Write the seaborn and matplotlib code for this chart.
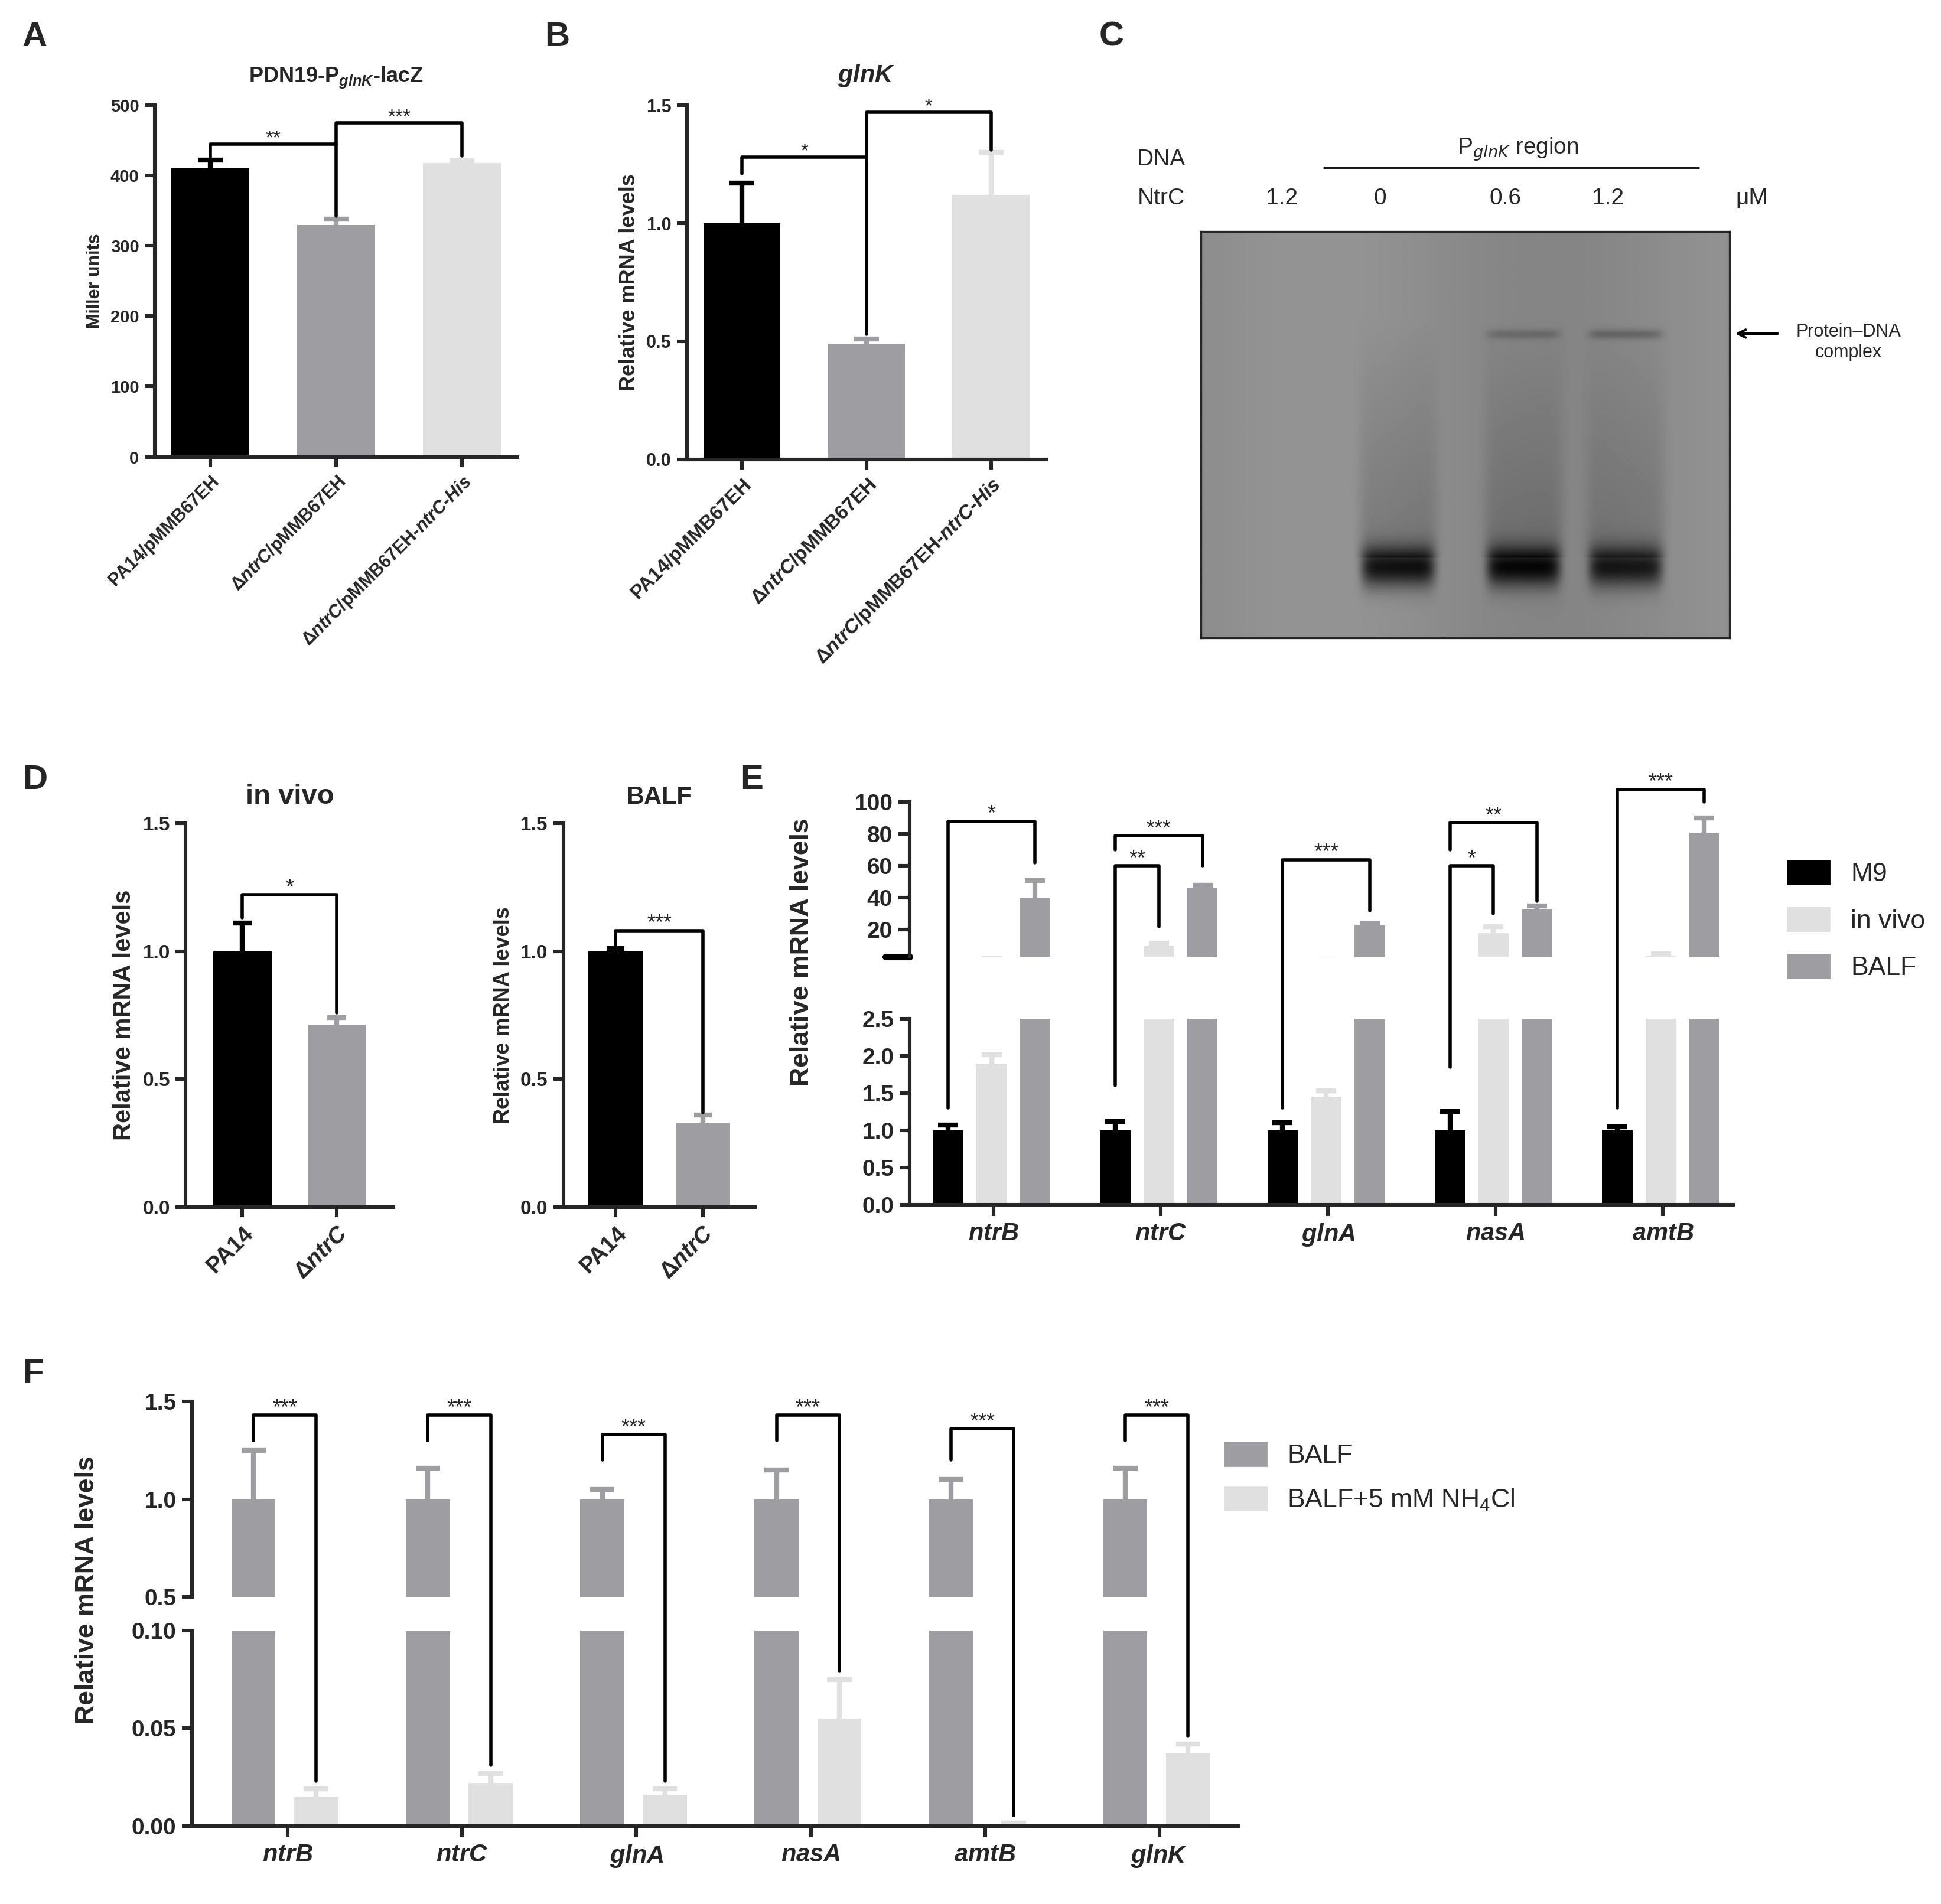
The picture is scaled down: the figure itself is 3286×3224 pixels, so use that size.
import numpy as np
import pandas as pd
import matplotlib
matplotlib.use("Agg")
import matplotlib.pyplot as plt
import seaborn as sns
from matplotlib.patches import Patch
from matplotlib.lines import Line2D

sns.set_theme(style="ticks")
plt.rcParams['font.family'] = ['Liberation Sans', 'DejaVu Sans']
plt.rcParams['mathtext.fontset'] = 'custom'
plt.rcParams['mathtext.it'] = 'Liberation Sans:bold:italic'
plt.rcParams['mathtext.bf'] = 'Liberation Sans:bold'
plt.rcParams['mathtext.rm'] = 'Liberation Sans'
plt.rcParams['axes.linewidth'] = 2.2
plt.rcParams['xtick.major.width'] = 2.2
plt.rcParams['ytick.major.width'] = 2.2

BLACK, GRAY, LIGHT = "#000000", "#9e9ea2", "#e0e0e0"

# ---------------- data ----------------
strainsAB = ["PA14/pMMB67EH", r"Δ$\mathit{ntrC}$/pMMB67EH", r"Δ$\mathit{ntrC}$/pMMB67EH-$\mathit{ntrC}$-$\mathit{His}$"]
A_vals = [410, 330, 418]
A_err = [12, 8, 3]
B_vals = [1.0, 0.49, 1.12]
B_err = [0.17, 0.02, 0.18]

D_strains = ["PA14", r"Δ$\mathit{ntrC}$"]
D_vivo = [1.0, 0.71]
D_vivo_err = [0.11, 0.03]
D_balf = [1.0, 0.33]
D_balf_err = [0.01, 0.03]

E_genes = ["ntrB", "ntrC", "glnA", "nasA", "amtB"]
E_conds = ["M9", "in vivo", "BALF"]
E_M9 = [1.0, 1.0, 1.0, 1.0, 1.0]
E_M9_err = [0.07, 0.12, 0.10, 0.25, 0.05]
E_vivo = [1.9, 10.0, 1.45, 18.0, 4.0]
E_vivo_err = [0.12, 1.5, 0.08, 4.0, 1.0]
E_balf = [40.0, 46.0, 23.0, 33.0, 81.0]
E_balf_err = [11.0, 2.0, 1.0, 2.0, 9.0]

F_genes = ["ntrB", "ntrC", "glnA", "nasA", "amtB", "glnK"]
F_conds = ["BALF", "BALF+5 mM NH$_4$Cl"]
F_balf = [1.0, 1.0, 1.0, 1.0, 1.0, 1.0]
F_balf_err = [0.25, 0.16, 0.05, 0.15, 0.10, 0.16]
F_nh4 = [0.015, 0.022, 0.016, 0.055, 0.001, 0.037]
F_nh4_err = [0.004, 0.005, 0.003, 0.020, 0.0005, 0.005]

C_lanes_ntrc = ["1.2", "0", "0.6", "1.2"]
C_free_band = [0.0, 1.0, 1.0, 0.9]
C_complex_band = [0.0, 0.0, 0.35, 0.45]

fig = plt.figure(figsize=(16.43, 16.12), dpi=200)
W, H = 1568.0, 1538.0
def rect(x0, y0, x1, y1):
    return [x0 / W, 1 - y1 / H, (x1 - x0) / W, (y1 - y0) / H]

def fpt(ax, x, y):
    d = ax.transData.transform((x, y))
    return fig.transFigure.inverted().transform(d)

def bracket(x1, y1, ax1, x2, y2, ax2, xt, yt, axt, txt, lw=2.0, fs=13):
    p1 = fpt(ax1, x1, y1); p2 = fpt(ax2, x2, y2)
    t1 = fpt(axt, x1, yt); t2 = fpt(axt, x2, yt)
    fig.add_artist(Line2D([p1[0], t1[0], t2[0], p2[0]], [p1[1], t1[1], t2[1], p2[1]],
                          color="black", lw=lw, transform=fig.transFigure))
    fig.text((t1[0] + t2[0]) / 2, t1[1] - 0.002, txt, ha="center", va="bottom", fontsize=fs)

def upbar(ax, x, v, e, color, capw):
    ax.vlines(x, v, v + e, color=color, lw=3)
    ax.hlines(v + e, x - capw, x + capw, color=color, lw=3)

def simple_bar(ax, cats, vals, errs, colors, ylim, yticks):
    df = pd.DataFrame({"s": cats, "v": vals})
    sns.barplot(data=df, x="s", y="v", hue="s", palette=colors, ax=ax, legend=False,
                width=0.62, errorbar=None, saturation=1, linewidth=0)
    xs = [p.get_x() + p.get_width() / 2 for p in ax.patches]
    for x, v, e, p in zip(xs, vals, errs, ax.patches):
        upbar(ax, x, v, e, p.get_facecolor(), 0.1)
    ax.set_ylim(*ylim); ax.set_yticks(yticks)
    sns.despine(ax=ax)
    ax.set_xlabel("")
    return xs

# ---------------- A ----------------
axA = fig.add_axes(rect(125, 85, 418, 369))
xs = simple_bar(axA, strainsAB, A_vals, A_err, [BLACK, GRAY, LIGHT], (0, 500), range(0, 501, 100))
axA.set_ylabel("Miller units", fontsize=11, fontweight="bold")
axA.set_title(r"PDN19-P$_{\mathit{glnK}}$-lacZ", fontsize=13, fontweight="bold", pad=14)
axA.set_xticks(xs); axA.set_xticklabels(strainsAB, rotation=45, ha="right", rotation_mode="anchor", fontsize=11, fontweight="bold")
axA.set_yticklabels([str(v) for v in range(0, 501, 100)], fontsize=10.5, fontweight="bold")
bracket(xs[0], 425, axA, xs[1], 342, axA, 0, 445, axA, "**", fs=12)
bracket(xs[1], 445, axA, xs[2], 428, axA, 0, 475, axA, "***", fs=12)

# ---------------- B ----------------
axB = fig.add_axes(rect(555, 85, 845, 371))
xs = simple_bar(axB, strainsAB, B_vals, B_err, [BLACK, GRAY, LIGHT], (0, 1.5), [0, 0.5, 1.0, 1.5])
axB.set_ylabel("Relative mRNA levels", fontsize=13, fontweight="bold")
axB.set_title(r"$\mathit{glnK}$", fontsize=15, pad=14)
axB.set_xticks(xs); axB.set_xticklabels(strainsAB, rotation=45, ha="right", rotation_mode="anchor", fontsize=12, fontweight="bold")
axB.set_yticklabels(["0.0", "0.5", "1.0", "1.5"], fontsize=11, fontweight="bold")
bracket(xs[0], 1.21, axB, xs[1], 0.53, axB, 0, 1.28, axB, "*", fs=12)
bracket(xs[1], 1.28, axB, xs[2], 1.31, axB, 0, 1.47, axB, "*", fs=12)

# ---------------- C (gel) ----------------
axC = fig.add_axes(rect(970, 187, 1397, 515))
ny, nx = 330, 430
yy, xx = np.mgrid[0:ny, 0:nx]
img = np.full((ny, nx), 0.55) + 0.03 * np.sin(xx / 60.0)
lane_x = [80, 160, 262, 345]
for lx, fb, cb in zip(lane_x, C_free_band, C_complex_band):
    img -= fb * 0.5 * np.exp(-((xx - lx) / 30.0) ** 8 - ((yy - 272) / 16.0) ** 2)
    img -= fb * 0.1 * np.exp(-((xx - lx) / 32.0) ** 8) * (yy > 70) * (yy < 265) * ((yy - 70) / 195.0)
    img -= cb * 0.3 * np.exp(-((xx - lx) / 30.0) ** 8 - ((yy - 83) / 4.0) ** 2)
axC.imshow(img, cmap="gray", vmin=0, vmax=1, aspect="auto", extent=(0, nx, ny, 0))
axC.set_xticks([]); axC.set_yticks([])
for s in axC.spines.values(): s.set_linewidth(1.2)
for lx, lab in zip(lane_x, C_lanes_ntrc):
    axC.text(lx - 14, -18, lab, ha="center", va="bottom", fontsize=14, clip_on=False)
axC.text(-32, -18, "NtrC", ha="center", va="bottom", fontsize=14, clip_on=False)
axC.text(-32, -50, "DNA", ha="center", va="bottom", fontsize=14, clip_on=False)
axC.text(nx + 5, -18, "μM", ha="left", va="bottom", fontsize=14, clip_on=False)
axC.plot([100, 405], [-52, -52], color="black", lw=1, clip_on=False)
axC.text(258, -56, r"P$_{glnK}$ region", ha="center", va="bottom", fontsize=14, clip_on=False,
         math_fontfamily="dejavusans")
axC.annotate("", xy=(nx + 2, 83), xytext=(nx + 42, 83), xycoords="data",
             arrowprops=dict(arrowstyle="->", lw=1.5, color="black"), annotation_clip=False)
axC.text(nx + 97, 90, "Protein–DNA\ncomplex", ha="center", va="center", fontsize=11, clip_on=False)
axC.set_xlim(0, nx); axC.set_ylim(ny, 0)

# ---------------- D ----------------
for (x0, x1, vals, errs, title, brk) in [
        (150, 318, D_vivo, D_vivo_err, "in vivo", (1.13, 0.76, 1.22, "*")),
        (455, 610, D_balf, D_balf_err, "BALF", (1.02, 0.37, 1.08, "***"))]:
    ax = fig.add_axes(rect(x0, 665, x1, 975))
    xs = simple_bar(ax, D_strains, vals, errs, [BLACK, GRAY], (0, 1.5), [0, 0.5, 1.0, 1.5])
    ax.set_yticklabels(["0.0", "0.5", "1.0", "1.5"], fontsize=12, fontweight="bold")
    ax.set_ylabel("Relative mRNA levels", fontsize=15 if title == "in vivo" else 13, fontweight="bold")
    ax.set_title(title, fontsize=17 if title == "in vivo" else 15, fontweight="bold", pad=12)
    ax.set_xticks(xs); ax.set_xticklabels(D_strains, rotation=45, ha="right", rotation_mode="anchor", fontsize=14, fontweight="bold")
    ax.set_xlim(-0.6, 1.6)
    bracket(xs[0], brk[0], ax, xs[1], brk[1], ax, 0, brk[2], ax, brk[3], fs=13)

# ---------------- E ----------------
dfE = pd.DataFrame({"gene": np.repeat(E_genes, 3), "cond": E_conds * 5,
                    "v": np.ravel(np.column_stack([E_M9, E_vivo, E_balf]))})
errE = {"M9": E_M9_err, "in vivo": E_vivo_err, "BALF": E_balf_err}
axEu = fig.add_axes(rect(735, 648, 1400, 773))
axEl = fig.add_axes(rect(735, 823, 1400, 973))
palE = {"M9": BLACK, "in vivo": LIGHT, "BALF": GRAY}
xE = {}
for ax in (axEu, axEl):
    sns.barplot(data=dfE, x="gene", y="v", hue="cond", palette=palE, ax=ax, width=0.78,
                errorbar=None, saturation=1, legend=False, linewidth=0)
    for cont, cond in zip(ax.containers, E_conds):
        for i, p in enumerate(cont.patches):
            p.set_width(p.get_width() * 0.7)
            p.set_x(p.get_x() + p.get_width() * 0.15)
            x = p.get_x() + p.get_width() / 2
            xE[(cond, i)] = x
            upbar(ax, x, p.get_height(), errE[cond][i], palE[cond], 0.06)
    ax.set_xlabel(""); ax.set_ylabel("")
    ax.set_xlim(-0.5, 4.42)
axEu.set_ylim(3, 100); axEu.set_yticks([20, 40, 60, 80, 100])
axEl.set_ylim(0, 2.5); axEl.set_yticks([0, 0.5, 1.0, 1.5, 2.0, 2.5])
sns.despine(ax=axEu, bottom=True); axEu.set_xticks([])
sns.despine(ax=axEl)
axEu.tick_params(axis="y", length=7)
axEl.set_yticklabels(["0.0", "0.5", "1.0", "1.5", "2.0", "2.5"], fontsize=14, fontweight="bold")
axEu.set_yticklabels(["20", "40", "60", "80", "100"], fontsize=14, fontweight="bold")
axEl.set_xticklabels([rf"$\mathit{{{g}}}$" for g in E_genes], fontsize=15)
axEl.tick_params(axis="x", length=7)
fig.text(0.413, 0.50, "Relative mRNA levels", rotation=90, ha="center", va="center", fontsize=16, fontweight="bold")
axEu.plot([-0.03, 0.0], [3, 3], transform=axEu.get_yaxis_transform(), color="black", lw=4, clip_on=False)
bracket(xE[("M9", 0)], 1.3, axEl, xE[("BALF", 0)], 62, axEu, 0, 88, axEu, "*")
bracket(xE[("M9", 1)], 1.6, axEl, xE[("in vivo", 1)], 22, axEu, 0, 60, axEu, "**")
bracket(xE[("M9", 1)], 70, axEu, xE[("BALF", 1)], 60, axEu, 0, 79, axEu, "***")
bracket(xE[("M9", 2)], 1.3, axEl, xE[("BALF", 2)], 32, axEu, 0, 64, axEu, "***")
bracket(xE[("M9", 3)], 1.85, axEl, xE[("in vivo", 3)], 30, axEu, 0, 60, axEu, "*")
bracket(xE[("M9", 3)], 70, axEu, xE[("BALF", 3)], 38, axEu, 0, 87, axEu, "**")
bracket(xE[("M9", 4)], 1.3, axEl, xE[("BALF", 4)], 100, axEu, 0, 108, axEu, "***")
fig.legend(handles=[Patch(color=palE[c], label=c) for c in E_conds], loc="upper left",
           bbox_to_anchor=(1425 / W, 1 - 676 / H), frameon=False, fontsize=16, handlelength=1.6,
           handleheight=1.0, labelspacing=0.8)

# ---------------- F ----------------
dfF = pd.DataFrame({"gene": np.repeat(F_genes, 2), "cond": F_conds * 6,
                    "v": np.ravel(np.column_stack([F_balf, F_nh4]))})
errF = {F_conds[0]: F_balf_err, F_conds[1]: F_nh4_err}
palF = {F_conds[0]: GRAY, F_conds[1]: LIGHT}
axFu = fig.add_axes(rect(155, 1132, 1000, 1290))
axFl = fig.add_axes(rect(155, 1317, 1000, 1475))
xF = {}
for ax in (axFu, axFl):
    sns.barplot(data=dfF, x="gene", y="v", hue="cond", palette=palF, ax=ax, width=0.72,
                errorbar=None, saturation=1, legend=False, linewidth=0)
    for cont, cond in zip(ax.containers, F_conds):
        for i, p in enumerate(cont.patches):
            p.set_width(p.get_width() * 0.7)
            p.set_x(p.get_x() + p.get_width() * 0.15)
            x = p.get_x() + p.get_width() / 2
            xF[(cond, i)] = x
            upbar(ax, x, p.get_height(), errF[cond][i], palF[cond], 0.07)
    ax.set_xlabel(""); ax.set_ylabel("")
    ax.set_xlim(-0.55, 5.45)
axFu.set_ylim(0.5, 1.5); axFu.set_yticks([0.5, 1.0, 1.5])
axFl.set_ylim(0, 0.1); axFl.set_yticks([0, 0.05, 0.10])
sns.despine(ax=axFu, bottom=True); axFu.set_xticks([])
sns.despine(ax=axFl)
axFu.set_yticklabels(["0.5", "1.0", "1.5"], fontsize=14, fontweight="bold")
axFl.set_yticklabels(["0.00", "0.05", "0.10"], fontsize=14, fontweight="bold")
axFl.set_xticklabels([rf"$\mathit{{{g}}}$" for g in F_genes], fontsize=15)
axFl.tick_params(axis="x", length=7)
fig.text(0.045, 0.165, "Relative mRNA levels", rotation=90, ha="center", va="center", fontsize=16, fontweight="bold")
F_top = [1.43, 1.43, 1.33, 1.43, 1.36, 1.43]
for i in range(6):
    bracket(xF[(F_conds[0], i)], 1.3 if F_top[i] > 1.4 else 1.2, axFu,
            xF[(F_conds[1], i)], F_nh4[i] + F_nh4_err[i] + 0.004, axFl, 0, F_top[i], axFu, "***")
fig.legend(handles=[Patch(color=palF[c], label=c) for c in F_conds], loc="upper left",
           bbox_to_anchor=(970 / W, 1 - 1146 / H), frameon=False, fontsize=16, handlelength=1.6,
           handleheight=1.0, labelspacing=0.7)

# ---------------- panel letters ----------------
for lab, x, y in [("A", 18, 30), ("B", 440, 30), ("C", 888, 30), ("D", 18, 630), ("E", 598, 630), ("F", 18, 1110)]:
    fig.text(x / W, 1 - y / H, lab, fontsize=21, fontweight="bold", ha="left", va="center")

fig.savefig("out.png", dpi=200)
